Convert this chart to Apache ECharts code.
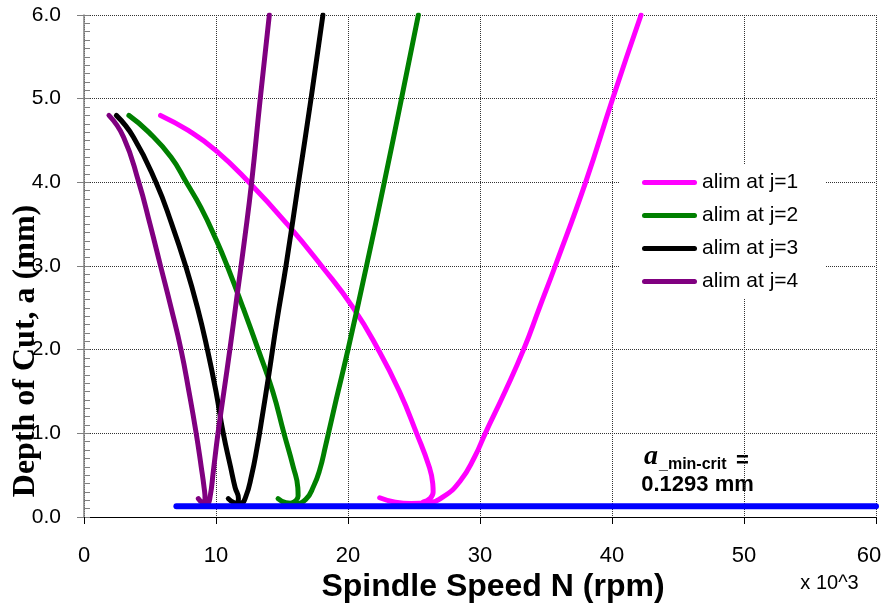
<!DOCTYPE html>
<html><head><meta charset="utf-8">
<script src="https://cdn.jsdelivr.net/npm/echarts@6/dist/echarts.min.js"></script>
<style>html,body{margin:0;padding:0;background:#fff}#c{width:893px;height:611px}</style>
</head><body><div id="c"></div><script>
// Axis ranges / ticks
const xMin = 0, xMax = 60, xStep = 10;
const yMin = 0, yMax = 6, yStep = 1;

// Series names and colours
const seriesNames = ['alim at j=1', 'alim at j=2', 'alim at j=3', 'alim at j=4'];
const seriesColors = ['#FF00FF', '#008000', '#000000', '#800080'];

// Stability lobes: [spindle speed (x10^3 rpm), depth of cut (mm)]
const j1Left = [[5.8,4.8],[7.9,4.62],[10.0,4.38],[12.5,4.0],[15.4,3.5],[18.0,3.0],[20.4,2.5],[22.3,2.0],[23.9,1.5],[25.2,1.0],[26.15,0.6],[26.42,0.4],[26.45,0.3],[26.2,0.22],[25.7,0.18]];
const j1Right = [[22.4,0.23],[23.5,0.18],[24.8,0.16],[26.0,0.17],[27.2,0.24],[28.5,0.43],[29.6,0.72],[30.4,1.0],[31.9,1.5],[33.3,2.0],[34.5,2.5],[35.7,3.0],[38.0,4.0],[40.05,5.0],[42.2,6.0]];
const j2Left = [[3.4,4.8],[4.9,4.6],[6.6,4.3],[7.75,4.0],[8.85,3.7],[10.05,3.3],[10.85,3.0],[12.05,2.5],[13.2,2.0],[14.3,1.5],[15.15,1.0],[15.85,0.6],[16.2,0.35],[16.22,0.25],[16.0,0.19],[15.6,0.16]];
const j2Right = [[14.7,0.22],[15.3,0.17],[16.0,0.16],[16.8,0.21],[17.4,0.37],[17.85,0.56],[18.3,0.85],[19.1,1.4],[20.0,2.0],[21.4,3.0],[22.75,4.0],[24.05,5.0],[25.33,6.0]];
const j3Left = [[2.45,4.8],[3.75,4.54],[5.45,4.0],[6.65,3.5],[7.7,3.0],[8.6,2.5],[9.35,2.0],[10.0,1.5],[10.55,1.0],[11.1,0.6],[11.45,0.35],[11.7,0.22],[11.65,0.16]];
const j3Right = [[10.93,0.22],[11.4,0.17],[11.85,0.16],[12.25,0.24],[12.7,0.5],[13.1,0.82],[13.5,1.2],[14.0,1.7],[14.62,2.35],[15.3,3.0],[16.25,4.0],[17.2,5.0],[18.1,6.0]];
const j4Left = [[1.89,4.8],[3.0,4.54],[4.15,4.0],[5.0,3.5],[5.8,3.0],[6.6,2.5],[7.35,2.0],[7.95,1.5],[8.5,1.0],[8.88,0.6],[9.1,0.35],[9.17,0.22],[9.1,0.16]];
const j4Right = [[8.66,0.22],[9.0,0.17],[9.35,0.16],[9.55,0.24],[9.8,0.55],[10.15,1.0],[10.6,1.5],[11.05,2.0],[11.6,2.65],[12.15,3.3],[12.7,4.0],[13.35,5.0],[14.04,6.0]];

// Minimum critical depth line
const aMinCrit = 0.1293;
const minCritSpeeds = [7, 60];

const branches = [[j1Left, j1Right], [j2Left, j2Right], [j3Left, j3Right], [j4Left, j4Right]];

const chart = echarts.init(document.getElementById('c'), null, {renderer: 'canvas'});

const gridLine = {show: true, lineStyle: {color: '#333', type: [1, 1], width: 1}};
const SANS = '"Liberation Sans", Arial, sans-serif';
const SERIF = '"Liberation Serif", "Times New Roman", serif';

const series = branches.map((b, i) => ({
  type: 'line',
  name: seriesNames[i],
  data: b[0].concat([['-', '-']], b[1]),
  symbol: 'none',
  smooth: 0.5,
  connectNulls: false,
  lineStyle: {width: 5, color: seriesColors[i], cap: 'round', join: 'round'},
  itemStyle: {color: seriesColors[i]},
  z: 2 + i
}));
series.push({
  type: 'line',
  name: 'a_min-crit',
  data: minCritSpeeds.map(x => [x, aMinCrit]),
  symbol: 'none',
  lineStyle: {width: 6, color: '#0000FF', cap: 'round'},
  itemStyle: {color: '#0000FF'},
  z: 10
});

chart.setOption({
  animation: false,
  backgroundColor: '#fff',
  grid: {left: 84, right: 17, top: 15, bottom: 94, containLabel: false},
  xAxis: {
    type: 'value', min: xMin, max: xMax, interval: xStep,
    axisLine: {show: true, onZero: false, lineStyle: {color: '#000', width: 1}},
    axisTick: {show: true, inside: false, length: 7, lineStyle: {color: '#000'}},
    axisLabel: {
      fontSize: 22, color: '#000', fontFamily: SANS, margin: 28,
      formatter: v => v === xMax ? '{last|' + v + '}' : String(v),
      rich: {last: {fontSize: 22, color: '#000', fontFamily: SANS, padding: [0, 14, 0, 0]}}
    },
    splitLine: gridLine
  },
  yAxis: [{
    type: 'value', min: yMin, max: yMax, interval: yStep, position: 'left',
    axisLine: {show: true, onZero: false, lineStyle: {color: '#808080', width: 1.5}},
    axisTick: {show: true, inside: false, length: 7, lineStyle: {color: '#808080'}},
    axisLabel: {fontSize: 21, color: '#000', fontFamily: SANS, margin: 23, formatter: v => v.toFixed(1)},
    splitLine: gridLine
  }, {
    type: 'value', min: yMin, max: yMax, interval: yStep, position: 'left',
    axisLine: {show: false},
    axisTick: {show: true, inside: true, length: 6, lineStyle: {color: '#808080'}},
    minorTick: {show: true, splitNumber: 10, length: 6, lineStyle: {color: '#808080'}},
    axisLabel: {show: false},
    splitLine: {show: false}
  }],
  legend: {
    data: seriesNames,
    orient: 'vertical',
    left: 620, top: 165,
    padding: [7, 27, 6, 22],
    backgroundColor: '#fff',
    itemWidth: 55, itemHeight: 5, itemGap: 12,
    icon: 'path://M2.5,0 L52.5,0 A2.5,2.5 0 0 1 52.5,5 L2.5,5 A2.5,2.5 0 0 1 2.5,0 Z',
    textStyle: {fontSize: 21, lineHeight: 21, color: '#000', fontFamily: SANS},
    selectedMode: false
  },
  graphic: [
    {type: 'text', x: 25.5, y: 351, rotation: Math.PI / 2,
     style: {text: 'Depth of Cut, a (mm)', font: 'bold 32px ' + SERIF, fill: '#000', textAlign: 'center', textVerticalAlign: 'middle', verticalAlign: 'middle'}},
    {type: 'text', x: 493, y: 587.5,
     style: {text: 'Spindle Speed N (rpm)', font: 'bold 32px ' + SANS, fill: '#000', textAlign: 'center', textVerticalAlign: 'middle', verticalAlign: 'middle'}},
    {type: 'text', x: 829.5, y: 583,
     style: {text: 'x 10^3', font: '20px ' + SANS, fill: '#000', textAlign: 'center', textVerticalAlign: 'middle', verticalAlign: 'middle'}},
    {type: 'text', x: 644, y: 457,
     style: {text: 'a', font: 'italic bold 28px ' + SERIF, fill: '#000', textAlign: 'left', textVerticalAlign: 'middle', verticalAlign: 'middle'}},
    {type: 'text', x: 659, y: 465,
     style: {text: '_min-crit', font: 'bold 16px ' + SANS, fill: '#000', textAlign: 'left', textVerticalAlign: 'middle', verticalAlign: 'middle'}},
    {type: 'text', x: 742.5, y: 461,
     style: {text: '=', font: 'bold 22px ' + SANS, fill: '#000', textAlign: 'center', textVerticalAlign: 'middle', verticalAlign: 'middle'}},
    {type: 'text', x: 697.5, y: 485,
     style: {text: aMinCrit.toFixed(4) + ' mm', font: 'bold 22px ' + SANS, fill: '#000', textAlign: 'center', textVerticalAlign: 'middle', verticalAlign: 'middle'}}
  ],
  series: series
});
</script></body></html>
